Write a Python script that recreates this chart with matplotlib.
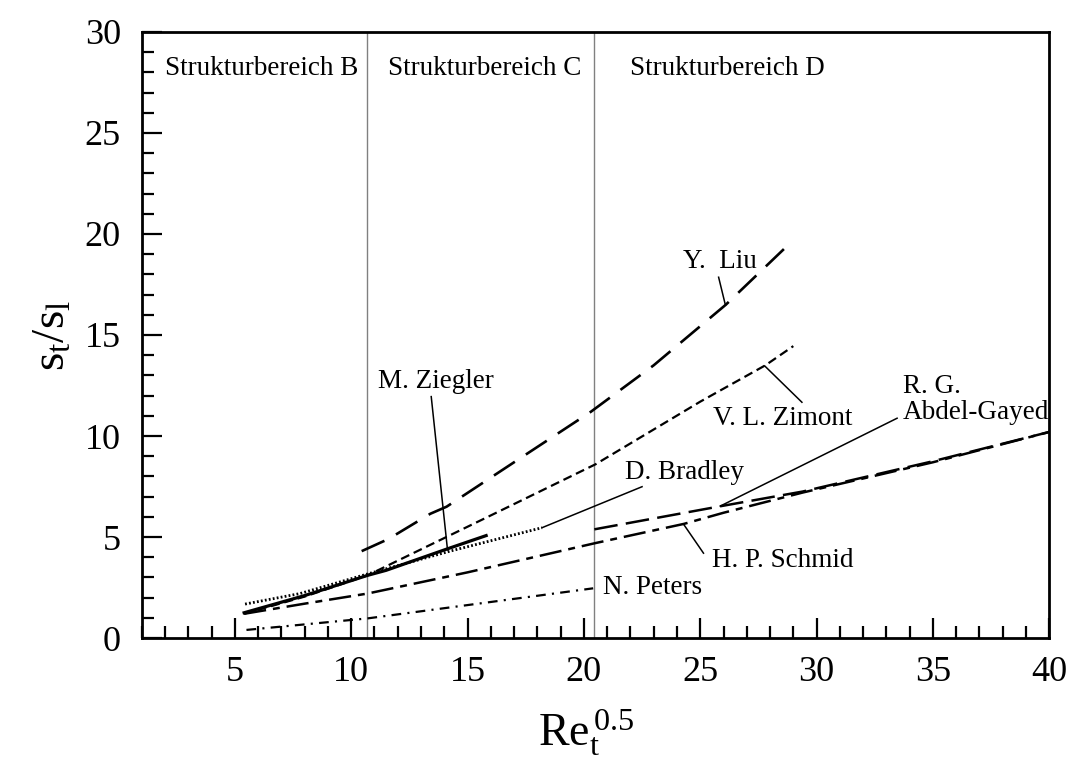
import matplotlib
matplotlib.use("Agg")
import matplotlib.pyplot as plt
from matplotlib.ticker import MultipleLocator

plt.rcParams["font.family"] = ["Liberation Serif", "DejaVu Serif"]
plt.rcParams["mathtext.fontset"] = "custom"
plt.rcParams["mathtext.rm"] = "Liberation Serif"
plt.rcParams["mathtext.it"] = "Liberation Serif:italic"
plt.rcParams["lines.scale_dashes"] = False

# turbulent burning velocity correlations, s_t/s_l over Re_t^0.5
liu_x = [10.45, 11.6, 13.4, 14.1, 17.0, 20.3, 23.0, 26.1, 29.0]
liu_y = [4.3, 4.9, 6.15, 6.5, 8.7, 11.2, 13.5, 16.5, 19.7]

zimont_x = [5.4, 8.0, 10.7, 15.7, 20.5, 25.0, 27.8, 29.0]
zimont_y = [1.2, 2.05, 3.1, 5.9, 8.6, 11.7, 13.5, 14.45]

ziegler_x = [5.4, 8.0, 10.7, 11.5, 14.1, 15.8]
ziegler_y = [1.25, 2.1, 3.1, 3.35, 4.4, 5.07]

bradley_x = [5.44, 7.8, 10.7, 14.25, 18.2]
bradley_y = [1.68, 2.2, 3.17, 4.3, 5.46]

schmid_x = [5.4, 8.0, 10.7, 15.0, 20.5, 24.3, 26.0, 29.4, 35.0, 40.0]
schmid_y = [1.2, 1.7, 2.2, 3.25, 4.7, 5.65, 6.2, 7.2, 8.7, 10.2]

abdel_x = [20.45, 25.9, 29.4, 35.0, 40.0]
abdel_y = [5.38, 6.53, 7.25, 8.75, 10.2]

peters_x = [5.5, 10.7, 15.0, 20.4]
peters_y = [0.4, 0.97, 1.63, 2.46]

region_bounds = [10.7, 20.45]
region_names = ["Strukturbereich B", "Strukturbereich C", "Strukturbereich D"]
region_text_x = [2.0, 11.6, 22.0]

fig = plt.figure(figsize=(10.73, 7.58), dpi=100)
ax = fig.add_axes([0.1321, 0.1583, 0.8458, 0.7995])

for xb in region_bounds:
    ax.axvline(xb, color="#808080", lw=1.0, zorder=1)
for name, tx in zip(region_names, region_text_x):
    ax.text(tx, 28.2, name, fontsize=19.5, ha="left", va="center")

ax.plot(liu_x, liu_y, color="black", lw=1.9, dashes=(18, 9.5))
ax.plot(zimont_x, zimont_y, color="black", lw=1.6, dashes=(6.5, 3.5))
ax.plot(ziegler_x, ziegler_y, color="black", lw=2.3)
ax.plot(bradley_x, bradley_y, color="black", lw=2.0, dashes=(1.3, 1.6))
ax.plot(schmid_x, schmid_y, color="black", lw=1.8, dashes=(16, 5, 5, 5))
ax.plot(abdel_x, abdel_y, color="black", lw=1.8, dashes=(17, 6))
ax.plot(peters_x, peters_y, color="black", lw=1.6, dashes=(7, 4.5, 1.5, 4.5))

# labels with leader lines
lead = dict(color="black", lw=1.1)
fs = 19.5
ax.plot([26.08, 25.79], [16.49, 17.86], **lead)
ax.text(24.26, 18.63, "Y.  Liu", fontsize=fs, ha="left", va="center")

ax.plot([14.14, 13.44], [4.36, 11.95], **lead)
ax.text(13.66, 12.7, "M. Ziegler", fontsize=fs, ha="center", va="center")

ax.plot([27.77, 29.37], [13.47, 11.67], **lead)
ax.text(25.53, 10.87, "V. L. Zimont", fontsize=fs, ha="left", va="center")

ax.plot([18.2, 22.5], [5.46, 7.49], **lead)
ax.text(21.78, 8.2, "D. Bradley", fontsize=fs, ha="left", va="center")

ax.plot([25.86, 33.46], [6.53, 10.88], **lead)
ax.text(33.7, 12.43, "R. G.", fontsize=fs, ha="left", va="center")
ax.text(33.7, 11.14, "Abdel-Gayed", fontsize=fs, ha="left", va="center")

ax.plot([24.28, 25.14], [5.64, 4.2], **lead)
ax.text(25.5, 3.86, "H. P. Schmid", fontsize=fs, ha="left", va="center")

ax.text(20.83, 2.48, "N. Peters", fontsize=fs, ha="left", va="center")

ax.set_xlim(1, 40)
ax.set_ylim(0, 30)
ax.set_xticks(range(5, 41, 5))
ax.set_yticks(range(0, 31, 5))
ax.xaxis.set_minor_locator(MultipleLocator(1))
ax.yaxis.set_minor_locator(MultipleLocator(1))
ax.tick_params(which="both", direction="in", top=False, right=False,
               width=1.6, labelsize=26)
ax.tick_params(axis="x", which="major", length=14.5, pad=13)
ax.tick_params(axis="y", which="major", length=14.5, pad=15)
ax.tick_params(which="minor", length=8.5)
for sp in ax.spines.values():
    sp.set_linewidth(2.0)

fig.text(0.546, 0.016, r"$\mathrm{Re_t^{\,0.5}}$", fontsize=33,
         ha="center", va="baseline")
fig.text(0.050, 0.558, r"$\mathrm{s_t/s_l}$", fontsize=34,
         ha="center", va="center", rotation=90)

fig.savefig("out.png", dpi=100)
